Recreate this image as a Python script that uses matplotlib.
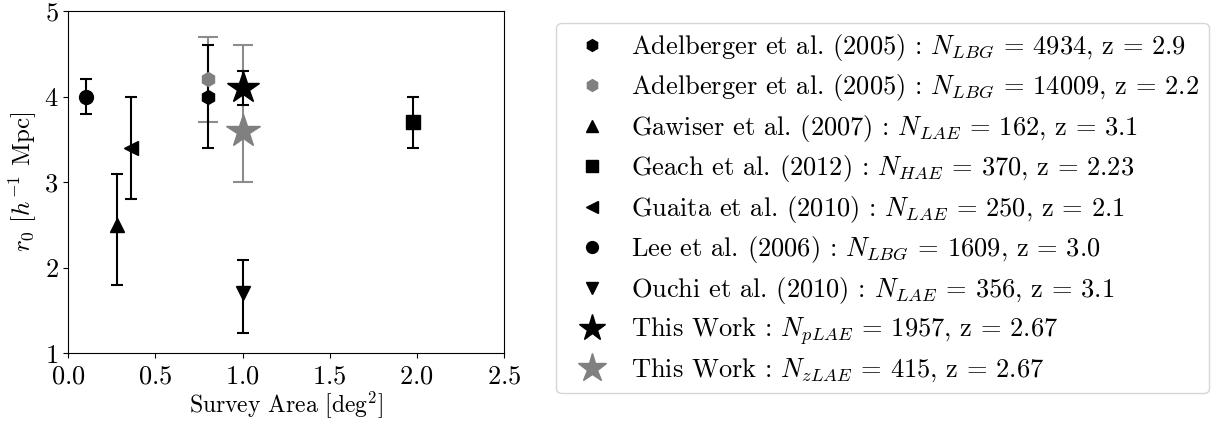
import matplotlib
matplotlib.use("Agg")
import matplotlib.pyplot as plt
import numpy as np

plt.rcParams['font.family'] = 'serif'
plt.rcParams['font.serif'] = ['cmr10']
plt.rcParams['mathtext.fontset'] = 'cm'
plt.rcParams['axes.formatter.use_mathtext'] = True
plt.rcParams['font.size'] = 19

labels = [
    r"Adelberger et al. (2005) : $N_{LBG}$ = 4934, z = 2.9",
    r"Adelberger et al. (2005) : $N_{LBG}$ = 14009, z = 2.2",
    r"Gawiser et al. (2007) : $N_{LAE}$ = 162, z = 3.1",
    r"Geach et al. (2012) : $N_{HAE}$ = 370, z = 2.23",
    r"Guaita et al. (2010) : $N_{LAE}$ = 250, z = 2.1",
    r"Lee et al. (2006) : $N_{LBG}$ = 1609, z = 3.0",
    r"Ouchi et al. (2010) : $N_{LAE}$ = 356, z = 3.1",
    r"This Work : $N_{pLAE}$ = 1957, z = 2.67",
    r"This Work : $N_{zLAE}$ = 415, z = 2.67",
]
area = [0.8, 0.8, 0.28, 1.98, 0.36, 0.1, 1.0, 1.0, 1.0]
r0 = [4.0, 4.2, 2.5, 3.7, 3.4, 4.0, 1.7, 4.1, 3.6]
err_lo = [0.6, 0.5, 0.7, 0.3, 0.6, 0.2, 0.46, 0.2, 0.6]
err_hi = [0.6, 0.5, 0.6, 0.3, 0.6, 0.2, 0.39, 0.2, 1.0]

markers = ['h', 'h', '^', 's', '<', 'o', 'v', '*', '*']
colors = ['black', 'grey', 'black', 'black', 'black', 'black', 'black', 'black', 'grey']
sizes = [10, 10, 10, 10, 10, 10, 10, 24, 25]
caps = [4, 7, 4, 4, 4, 4, 4, 4, 7]

fig = plt.figure(figsize=(12.2, 4.24), dpi=100)
ax = fig.add_axes([0.056, 0.167, 0.357, 0.807])

# gray error bars first so the black ones sit on top
order = [1, 8, 0, 2, 3, 4, 5, 6, 7]
for i in order:
    ecol = '#8c8c8c' if colors[i] == 'grey' else 'black'
    ax.errorbar(area[i], r0[i], yerr=[[err_lo[i]], [err_hi[i]]], fmt='none',
                ecolor=ecol, elinewidth=1.5, capsize=caps[i], capthick=1.5)

handles = {}
for i in order:
    h, = ax.plot(area[i], r0[i], linestyle='none', marker=markers[i],
                 color=colors[i], markersize=sizes[i])
    handles[i] = h

ax.set_xlim(0, 2.5)
ax.set_ylim(1, 5)
ax.set_xticks([0.0, 0.5, 1.0, 1.5, 2.0, 2.5])
ax.set_yticks([1, 2, 3, 4, 5])
ax.tick_params(labelsize=19)
ax.tick_params(axis='x', pad=5)
ax.set_xlabel(r"Survey Area [deg$^2$]", fontsize=17, labelpad=0)
ax.set_ylabel(r"$r_0$ [$h^{-1}$ Mpc]", fontsize=18)

leg = ax.legend([handles[i] for i in range(len(labels))], labels,
                loc='upper left', bbox_to_anchor=(1.09, 1.005), fontsize=19,
                handletextpad=0.5, labelspacing=0.36, borderpad=0.35,
                markerscale=0.85)

fig.savefig("out.png", dpi=100)
